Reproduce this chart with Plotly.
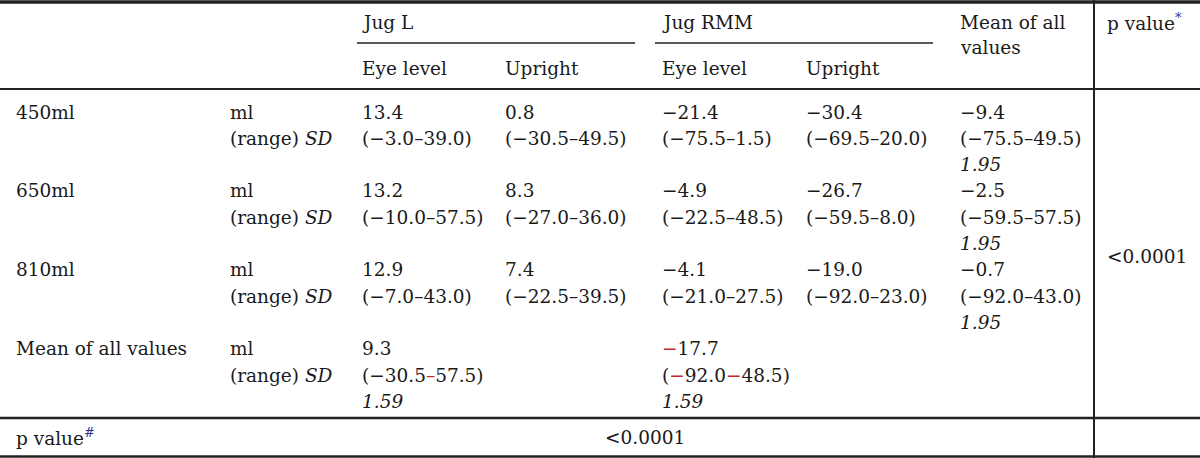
import plotly.graph_objects as go

# table data: mean deviation (ml), (range), SD
volumes = ["450ml", "650ml", "810ml"]
columns = ["Jug L Eye level", "Jug L Upright", "Jug RMM Eye level", "Jug RMM Upright"]

means = [[13.4, 0.8, -21.4, -30.4],
         [13.2, 8.3, -4.9, -26.7],
         [12.9, 7.4, -4.1, -19.0]]
range_lo = [[-3.0, -30.5, -75.5, -69.5],
            [-10.0, -27.0, -22.5, -59.5],
            [-7.0, -22.5, -21.0, -92.0]]
range_hi = [[39.0, 49.5, 1.5, 20.0],
            [57.5, 36.0, 48.5, 8.0],
            [43.0, 39.5, 27.5, 23.0]]

# mean of all values per volume (last column)
vol_mean = [-9.4, -2.5, -0.7]
vol_lo = [-75.5, -59.5, -92.0]
vol_hi = [49.5, 57.5, 43.0]
vol_sd = [1.95, 1.95, 1.95]

# mean of all values per jug (last row)
jugs = ["Jug L", "Jug RMM"]
jug_mean = [9.3, -17.7]
jug_lo = [-30.5, -92.0]
jug_hi = [57.5, 48.5]
jug_sd = [1.59, 1.59]

p_volume = "<0.0001"
p_jug = "<0.0001"

RED = "#c1272d"
BLUE = "#2e3192"
FONT = dict(family="DejaVu Serif", size=18.5, color="#1a1a1a")


def num(v):
    return f"{v:.1f}".replace("-", "\u2212")


def red(s):
    return f"<span style='color:{RED}'>{s}</span>"


fig = go.Figure()

# pixel space: x 0..1200, y 0..458 (top down)
col_x = [360, 503, 660, 804]
mean_x = 958
line0 = 112
pitch = 26.3


def put(x, y, text, **kw):
    fig.add_annotation(x=x, y=y, text=text, showarrow=False,
                       xanchor=kw.get("xanchor", "left"), yanchor="middle",
                       font=FONT, xref="x", yref="y")


#______________________________________________________________________________
# header
put(360, 22, jugs[0])
put(660, 22, jugs[1])
put(360, 68, "Eye level")
put(503, 68, "Upright")
put(660, 68, "Eye level")
put(804, 68, "Upright")
put(mean_x, 22, "Mean of all")
put(mean_x, 47, "values")
put(1105, 22, f"p value<sup><span style='color:{BLUE}'>*</span></sup>")

#______________________________________________________________________________
# body rows
for r, vol in enumerate(volumes):
    y = line0 + 3 * r * pitch
    put(14, y, vol)
    put(228, y, "ml")
    put(228, y + pitch, "(range) <i>SD</i>")
    for c in range(len(columns)):
        put(col_x[c], y, num(means[r][c]))
        put(col_x[c], y + pitch,
            f"({num(range_lo[r][c])}\u2013{num(range_hi[r][c])})")
    put(mean_x, y, num(vol_mean[r]))
    put(mean_x, y + pitch, f"({num(vol_lo[r])}\u2013{num(vol_hi[r])})")
    put(mean_x, y + 2 * pitch, f"<i>{vol_sd[r]:.2f}</i>")

# mean of all values row
y = line0 + 9 * pitch
put(14, y, "Mean of all values")
put(228, y, "ml")
put(228, y + pitch, "(range) <i>SD</i>")
for j, x in enumerate([360, 660]):
    m = num(jug_mean[j])
    lo = num(jug_lo[j])
    hi = num(jug_hi[j])
    if j == 0:
        rng = f"({lo}{red(chr(0x2013))}{hi})"
    else:
        m = red(m[0]) + m[1:]
        rng = f"({red(lo[0])}{lo[1:]}{red(chr(0x2212))}{hi})"
    put(x, y, m)
    put(x, y + pitch, rng)
    put(x, y + 2 * pitch, f"<i>{jug_sd[j]:.2f}</i>")

put(1147, 256, p_volume, xanchor="center")

# p value row
put(14, 437, f"p value<sup><span style='color:{BLUE}'>#</span></sup>")
put(645, 437, p_jug, xanchor="center")

#______________________________________________________________________________
# rules
rules = [dict(x0=0, x1=1200, y0=2, y1=2, w=3.5),
         dict(x0=357, x1=635, y0=43, y1=43, w=1.5),
         dict(x0=655, x1=933, y0=43, y1=43, w=1.5),
         dict(x0=0, x1=1200, y0=89, y1=89, w=2),
         dict(x0=0, x1=1200, y0=418, y1=418, w=2.5),
         dict(x0=0, x1=1200, y0=456.5, y1=456.5, w=2.5),
         dict(x0=1094, x1=1094, y0=0, y1=458, w=2)]
for s in rules:
    fig.add_shape(type="line", x0=s["x0"], x1=s["x1"], y0=s["y0"], y1=s["y1"],
                  xref="x", yref="y", line=dict(color="#222222", width=s["w"]))

fig.update_layout(width=1200, height=458,
                  margin=dict(l=0, r=0, t=0, b=0),
                  paper_bgcolor="white", plot_bgcolor="white",
                  showlegend=False)
fig.update_xaxes(range=[0, 1200], visible=False, fixedrange=True)
fig.update_yaxes(range=[458, 0], visible=False, fixedrange=True)

# page body has an 8px default margin; drop it so the table fills the window
fig.write_html("out.html", config={"displayModeBar": False},
               post_script="document.body.style.margin='0';document.body.style.overflow='hidden';")
